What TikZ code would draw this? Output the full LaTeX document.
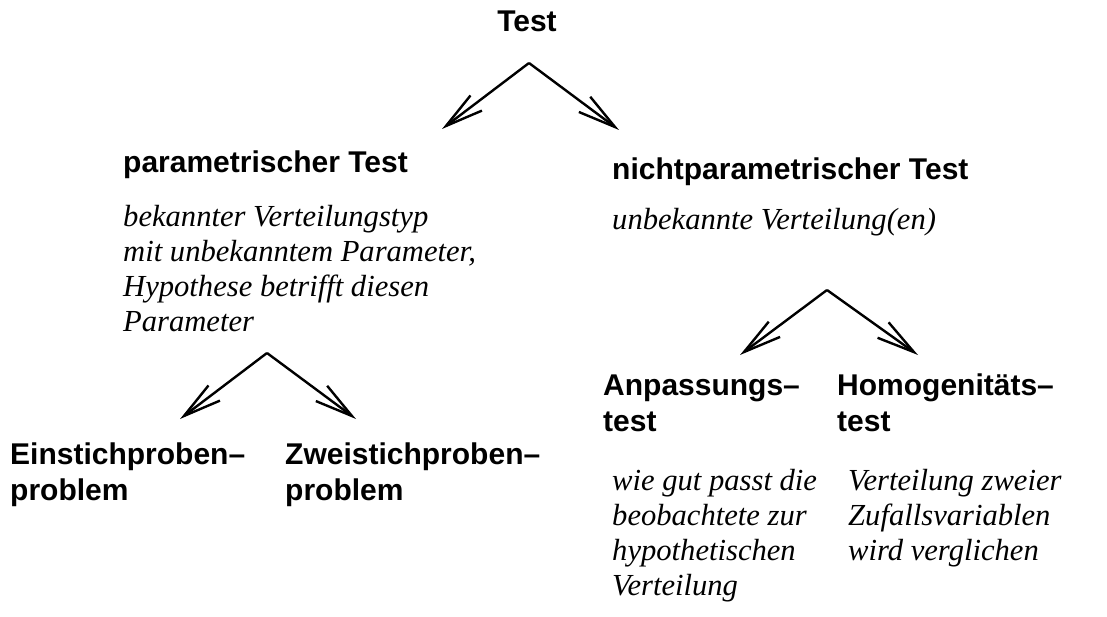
\documentclass[tikz,border=0pt]{standalone}
\usepackage{fontspec}
\setmainfont{Liberation Serif}
\setsansfont{Liberation Sans}
\usetikzlibrary{arrows.meta}

\begin{document}
\begin{tikzpicture}[x=1pt,y=-1pt,
  head/.style={anchor=base west,inner sep=0pt,align=left,
    font=\sffamily\bfseries\fontsize{30}{36}\selectfont},
  note/.style={anchor=base west,inner sep=0pt,align=left,
    font=\itshape\fontsize{30.6}{35}\selectfont},
  arr/.style={line width=2.4pt,-{Straight Barb[length=38pt,width=19pt,line width=2.4pt]}}]
\useasboundingbox (0,0) rectangle (1107,617);
% top
\node[head,anchor=base] (test) at (527,32) {Test};
\coordinate (v1) at (529,63);
\coordinate (l1) at (442,129);
\coordinate (r1) at (619,130);
\draw[arr] (v1)--(l1);
\draw[arr] (v1)--(r1);
% parametric branch (base = last line)
\node[head] (par) at (123,173) {parametrischer Test};
\node[note] (parnote) at (123,331) {bekannter Verteilungstyp\\mit unbekanntem Parameter,\\Hypothese betrifft diesen\\Parameter};
\coordinate (v2) at (267,353);
\coordinate (l2) at (180,419);
\coordinate (r2) at (356,419);
\draw[arr] (v2)--(l2);
\draw[arr] (v2)--(r2);
\node[head] (ein) at (10,500) {Einstichproben--\\problem};
\node[head] (zwei) at (285,500) {Zweistichproben--\\problem};
% nonparametric branch
\node[head] (npar) at (612,180) {nichtparametrischer Test};
\node[note] (nparnote) at (612,230) {unbekannte Verteilung(en)};
\coordinate (v3) at (827,290);
\coordinate (l3) at (740,355);
\coordinate (r3) at (918,355);
\draw[arr] (v3)--(l3);
\draw[arr] (v3)--(r3);
\node[head] (anp) at (603,431) {Anpassungs--\\test};
\node[head] (hom) at (837,431) {Homogenit\"ats--\\test};
\node[note] (anpnote) at (612,595) {wie gut passt die\\beobachtete zur\\hypothetischen\\Verteilung};
\node[note] (homnote) at (848,560) {Verteilung zweier\\Zufallsvariablen\\wird verglichen};
\end{tikzpicture}
\end{document}
